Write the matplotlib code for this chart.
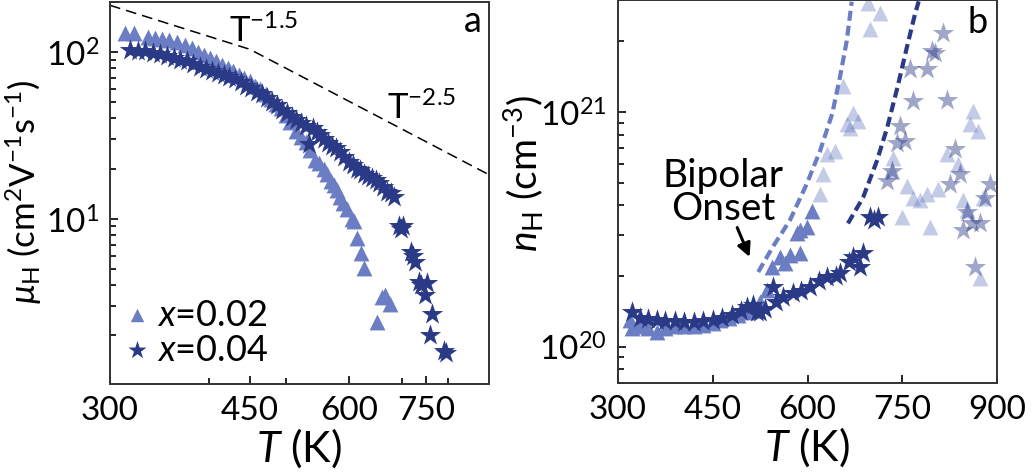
import numpy as np
import matplotlib
matplotlib.use("Agg")
import matplotlib.pyplot as plt
from matplotlib.ticker import NullFormatter, FixedLocator

plt.rcParams['font.family'] = ['Lato', 'DejaVu Sans']
plt.rcParams['mathtext.fontset'] = 'custom'
plt.rcParams['mathtext.rm'] = 'Lato'
plt.rcParams['mathtext.it'] = 'Lato:italic'
plt.rcParams['mathtext.bf'] = 'Lato:bold'

# (a) Hall mobility vs T
T_mu_02 = [313, 322, 335, 342, 349, 356, 364, 373, 380, 387, 394, 401, 408, 415, 422,
           429, 436, 443, 450, 457, 464, 471, 478, 485, 492, 499, 506, 515, 522, 530,
           536, 543, 550, 558, 563, 569, 574, 579, 584, 589, 597, 605, 609, 614, 621,
           627, 651, 660, 665, 675]
mu_02 = [130, 130, 123, 121, 120, 118, 115, 110, 106, 100, 96, 92, 88, 84, 80,
         77, 73, 70, 67, 63, 60, 56, 52, 49, 46, 42, 38, 33.8, 31, 28.7,
         26, 22.4, 21.5, 20.0, 18.5, 16.9, 16, 14.8, 13.5, 12.5, 11.5, 10.0, 9.7, 7.7, 6.2,
         5.1, 2.4, 3.4, 3.5, 3.1]

T_mu_04 = [318, 325, 332, 340, 347, 354, 361, 368, 375, 382, 389, 396, 403, 410, 417,
           424, 431, 438, 445, 452, 459, 466, 473, 480, 487, 494, 501, 508, 515, 522,
           529, 534, 540, 546, 552, 558, 564, 571, 578, 585, 592, 599, 606, 613, 620,
           627, 634, 641, 648, 655, 662, 670, 678, 683, 694, 698, 702, 717, 722, 726,
           734, 740, 747, 751, 759, 762, 790, 795]
mu_04 = [103, 102, 101, 99, 97, 95, 92, 90, 88, 85, 82, 79, 77, 75, 73,
         71, 69, 66, 63, 61, 58, 56, 53, 50, 48, 45, 43, 41, 39, 37.5,
         36, 28.3, 35, 33, 32, 30, 28.5, 27.5, 26.5, 25, 23.5, 22, 21, 20, 19.5,
         18.5, 18, 17.5, 17, 16.5, 15.5, 14.5, 14.2, 13.5, 9.0, 8.7, 9.0, 6.3, 6.0, 5.5,
         4.2, 4.0, 3.5, 4.1, 2.0, 2.7, 1.6, 1.56]

# power-law guide: T^-1.5 below the kink, T^-2.5 above
T_kink = 450
mu_kink = 104

# (b) Hall carrier density vs T
T_n_02 = [319, 322, 335, 348, 362, 375, 390, 405, 420, 435, 450, 461, 475, 490, 505,
          514, 525, 536, 544, 556, 564, 572, 583, 588, 588, 599, 607]
n_02 = [1.30e20, 1.20e20, 1.22e20, 1.20e20, 1.16e20, 1.20e20, 1.22e20, 1.22e20, 1.23e20,
        1.24e20, 1.26e20, 1.30e20, 1.33e20, 1.37e20, 1.40e20, 1.43e20, 1.55e20, 1.75e20,
        2.18e20, 2.41e20, 2.27e20, 2.46e20, 3.04e20, 2.50e20, 3.13e20, 3.23e20, 3.80e20]

T_n_04 = [322, 335, 348, 362, 375, 390, 405, 420, 435, 450, 465, 480, 495, 505, 514,
          520, 525, 532, 545, 550, 562, 577, 590, 604, 618, 631, 645, 651, 665, 672,
          683, 688, 699, 706, 712]
n_04 = [1.41e20, 1.33e20, 1.31e20, 1.30e20, 1.29e20, 1.28e20, 1.27e20, 1.27e20, 1.28e20,
        1.30e20, 1.33e20, 1.37e20, 1.42e20, 1.47e20, 1.50e20, 1.41e20, 1.40e20, 1.45e20,
        1.79e20, 1.55e20, 1.62e20, 1.69e20, 1.72e20, 1.79e20, 1.90e20, 1.98e20, 2.00e20,
        2.06e20, 2.30e20, 2.41e20, 2.18e20, 2.50e20, 3.56e20, 3.45e20, 3.56e20]

# points above the bipolar onset (drawn faded)
T_n_02_hi = [620, 625, 631, 644, 656, 662, 667, 672, 680, 696, 699, 715, 734, 735, 750,
             757, 767, 778, 789, 794, 807, 821, 838, 846, 852, 857, 862, 870, 873, 878]
n_02_hi = [4.49e20, 5.46e20, 6.64e20, 6.84e20, 1.29e21, 8.9e20, 8.55e20, 9.9e20, 9.16e20,
           2.9e21, 2.25e21, 2.63e21, 5.62e20, 6.38e20, 3.56e20, 4.86e20, 4.32e20, 4.2e20,
           4.49e20, 3.23e20, 4.71e20, 6.64e20, 6.02e20, 4.2e20, 3.81e20, 8.9e20, 1.01e21,
           8.3e20, 1.96e20, 4.32e20]

T_n_04_hi = [726, 734, 742, 746, 754, 762, 767, 789, 797, 802, 815, 821, 826, 834, 841,
             846, 852, 860, 865, 873, 881, 889]
n_04_hi = [5.1e20, 5.62e20, 7.39e20, 8.73e20, 7.5e20, 1.52e21, 1.11e21, 1.52e21, 1.81e21,
           1.78e21, 2.16e21, 1.13e21, 4.95e20, 6.97e20, 5.46e20, 3.13e20, 3.73e20, 3.38e20,
           2.18e20, 3.38e20, 4.32e20, 4.95e20]

# single-band extrapolations with bipolar term
T_fit_02 = [522, 545, 572, 599, 620, 639, 651, 662, 670]
n_fit_02 = [2.08e20, 2.66e20, 3.45e20, 4.95e20, 6.84e20, 9.8e20, 1.39e21, 2.0e21, 2.95e21]
T_fit_04 = [664, 688, 710, 726, 742, 757, 770, 776]
n_fit_04 = [3.35e20, 4.32e20, 6.2e20, 8.55e20, 1.26e21, 1.87e21, 2.6e21, 2.96e21]

c_light = '#6b7dc3'
c_dark = '#2a3a86'

fig = plt.figure(figsize=(10.32, 4.77), dpi=100)
ax_a = fig.add_axes([110/1032, 1-385/477, 379/1032, 382/477])
ax_b = fig.add_axes([618/1032, 1-384/477, 379/1032, 383/477])

# ---- panel a
ax_a.scatter(T_mu_02, mu_02, marker='^', s=130, color=c_light, lw=0, label=r'$x$=0.02', zorder=3)
ax_a.scatter(T_mu_04, mu_04, marker='*', s=260, color=c_dark, lw=0, label=r'$x$=0.04', zorder=4)

T_g = np.linspace(300, 900, 200)
mu_g = np.where(T_g <= T_kink, mu_kink*(T_g/T_kink)**-1.5, mu_kink*(T_g/T_kink)**-2.5)
ax_a.plot(T_g, mu_g, color='k', lw=1.1, dashes=(7, 4), zorder=2)

ax_a.set_xscale('log')
ax_a.set_yscale('log')
ax_a.set_xlim(300, 900)
ax_a.set_ylim(1.02, 200)
ax_a.xaxis.set_major_locator(FixedLocator([300, 450, 600, 750]))
ax_a.xaxis.set_minor_locator(FixedLocator([400, 500, 700, 800]))
ax_a.set_xticklabels(['300', '450', '600', '750'])
ax_a.xaxis.set_minor_formatter(NullFormatter())
ax_a.yaxis.set_minor_formatter(NullFormatter())

ax_a.text(0.315, 0.898, r'T$^{\mathregular{-1.5}}$', transform=ax_a.transAxes, fontsize=25, va='baseline')
ax_a.text(0.73, 0.696, r'T$^{\mathregular{-2.5}}$', transform=ax_a.transAxes, fontsize=25, va='baseline')
ax_a.text(0.935, 0.924, 'a', transform=ax_a.transAxes, fontsize=26, va='baseline')

ax_a.legend(loc='lower left', frameon=False, fontsize=26, handletextpad=0.1,
            labelspacing=0.05, borderaxespad=0.0, borderpad=0.3, handlelength=0.9,
            markerscale=0.85, bbox_to_anchor=(0.0, 0.02))

ax_a.set_xlabel(r'$T$ (K)', fontsize=31, labelpad=0)
ax_a.set_ylabel(r'$\mu_{\mathregular{H}}$ (cm$^{\mathregular{2}}$V$^{\mathregular{-1}}$s$^{\mathregular{-1}}$)', fontsize=25)
ax_a.yaxis.set_label_coords(-0.175, 0.505)

# ---- panel b
ax_b.scatter(T_n_02_hi, n_02_hi, marker='^', s=130, color=c_light, alpha=0.4, lw=0, zorder=2)
ax_b.scatter(T_n_04_hi, n_04_hi, marker='*', s=260, color=c_dark, alpha=0.45, lw=0, zorder=2)
ax_b.plot(T_fit_02, n_fit_02, color=c_light, lw=3, dashes=(2.4, 1.2), zorder=3)
ax_b.plot(T_fit_04, n_fit_04, color=c_dark, lw=3, dashes=(2.4, 1.2), zorder=3)
ax_b.scatter(T_n_02, n_02, marker='^', s=130, color=c_light, lw=0, zorder=4)
ax_b.scatter(T_n_04, n_04, marker='*', s=260, color=c_dark, lw=0, zorder=5)

ax_b.set_yscale('log')
ax_b.set_xlim(300, 900)
ax_b.set_ylim(7e19, 3e21)
ax_b.set_xticks([300, 450, 600, 750, 900])
ax_b.yaxis.set_minor_formatter(NullFormatter())

ax_b.text(466, 4.6e20, 'Bipolar\nOnset', fontsize=28, ha='center', va='center', linespacing=0.9)
ax_b.annotate('', xy=(510, 2.35e20), xytext=(487, 3.3e20),
              arrowprops=dict(arrowstyle='-|>', color='k', lw=2.2, mutation_scale=20))
ax_b.text(0.922, 0.916, 'b', transform=ax_b.transAxes, fontsize=26, va='baseline')

ax_b.set_xlabel(r'$T$ (K)', fontsize=31, labelpad=0)
ax_b.set_ylabel(r'$n_{\mathregular{H}}$ (cm$^{\mathregular{-3}}$)', fontsize=28)
ax_b.yaxis.set_label_coords(-0.19, 0.55)

for ax in (ax_a, ax_b):
    ax.tick_params(which='both', direction='in', top=False, right=False, labelsize=24, width=1.2, pad=8)
    ax.tick_params(which='major', length=6)
    ax.tick_params(which='minor', length=4)
    for sp in ax.spines.values():
        sp.set_linewidth(1.4)
        sp.set_color('#333333')

fig.savefig('out.png', dpi=100)
